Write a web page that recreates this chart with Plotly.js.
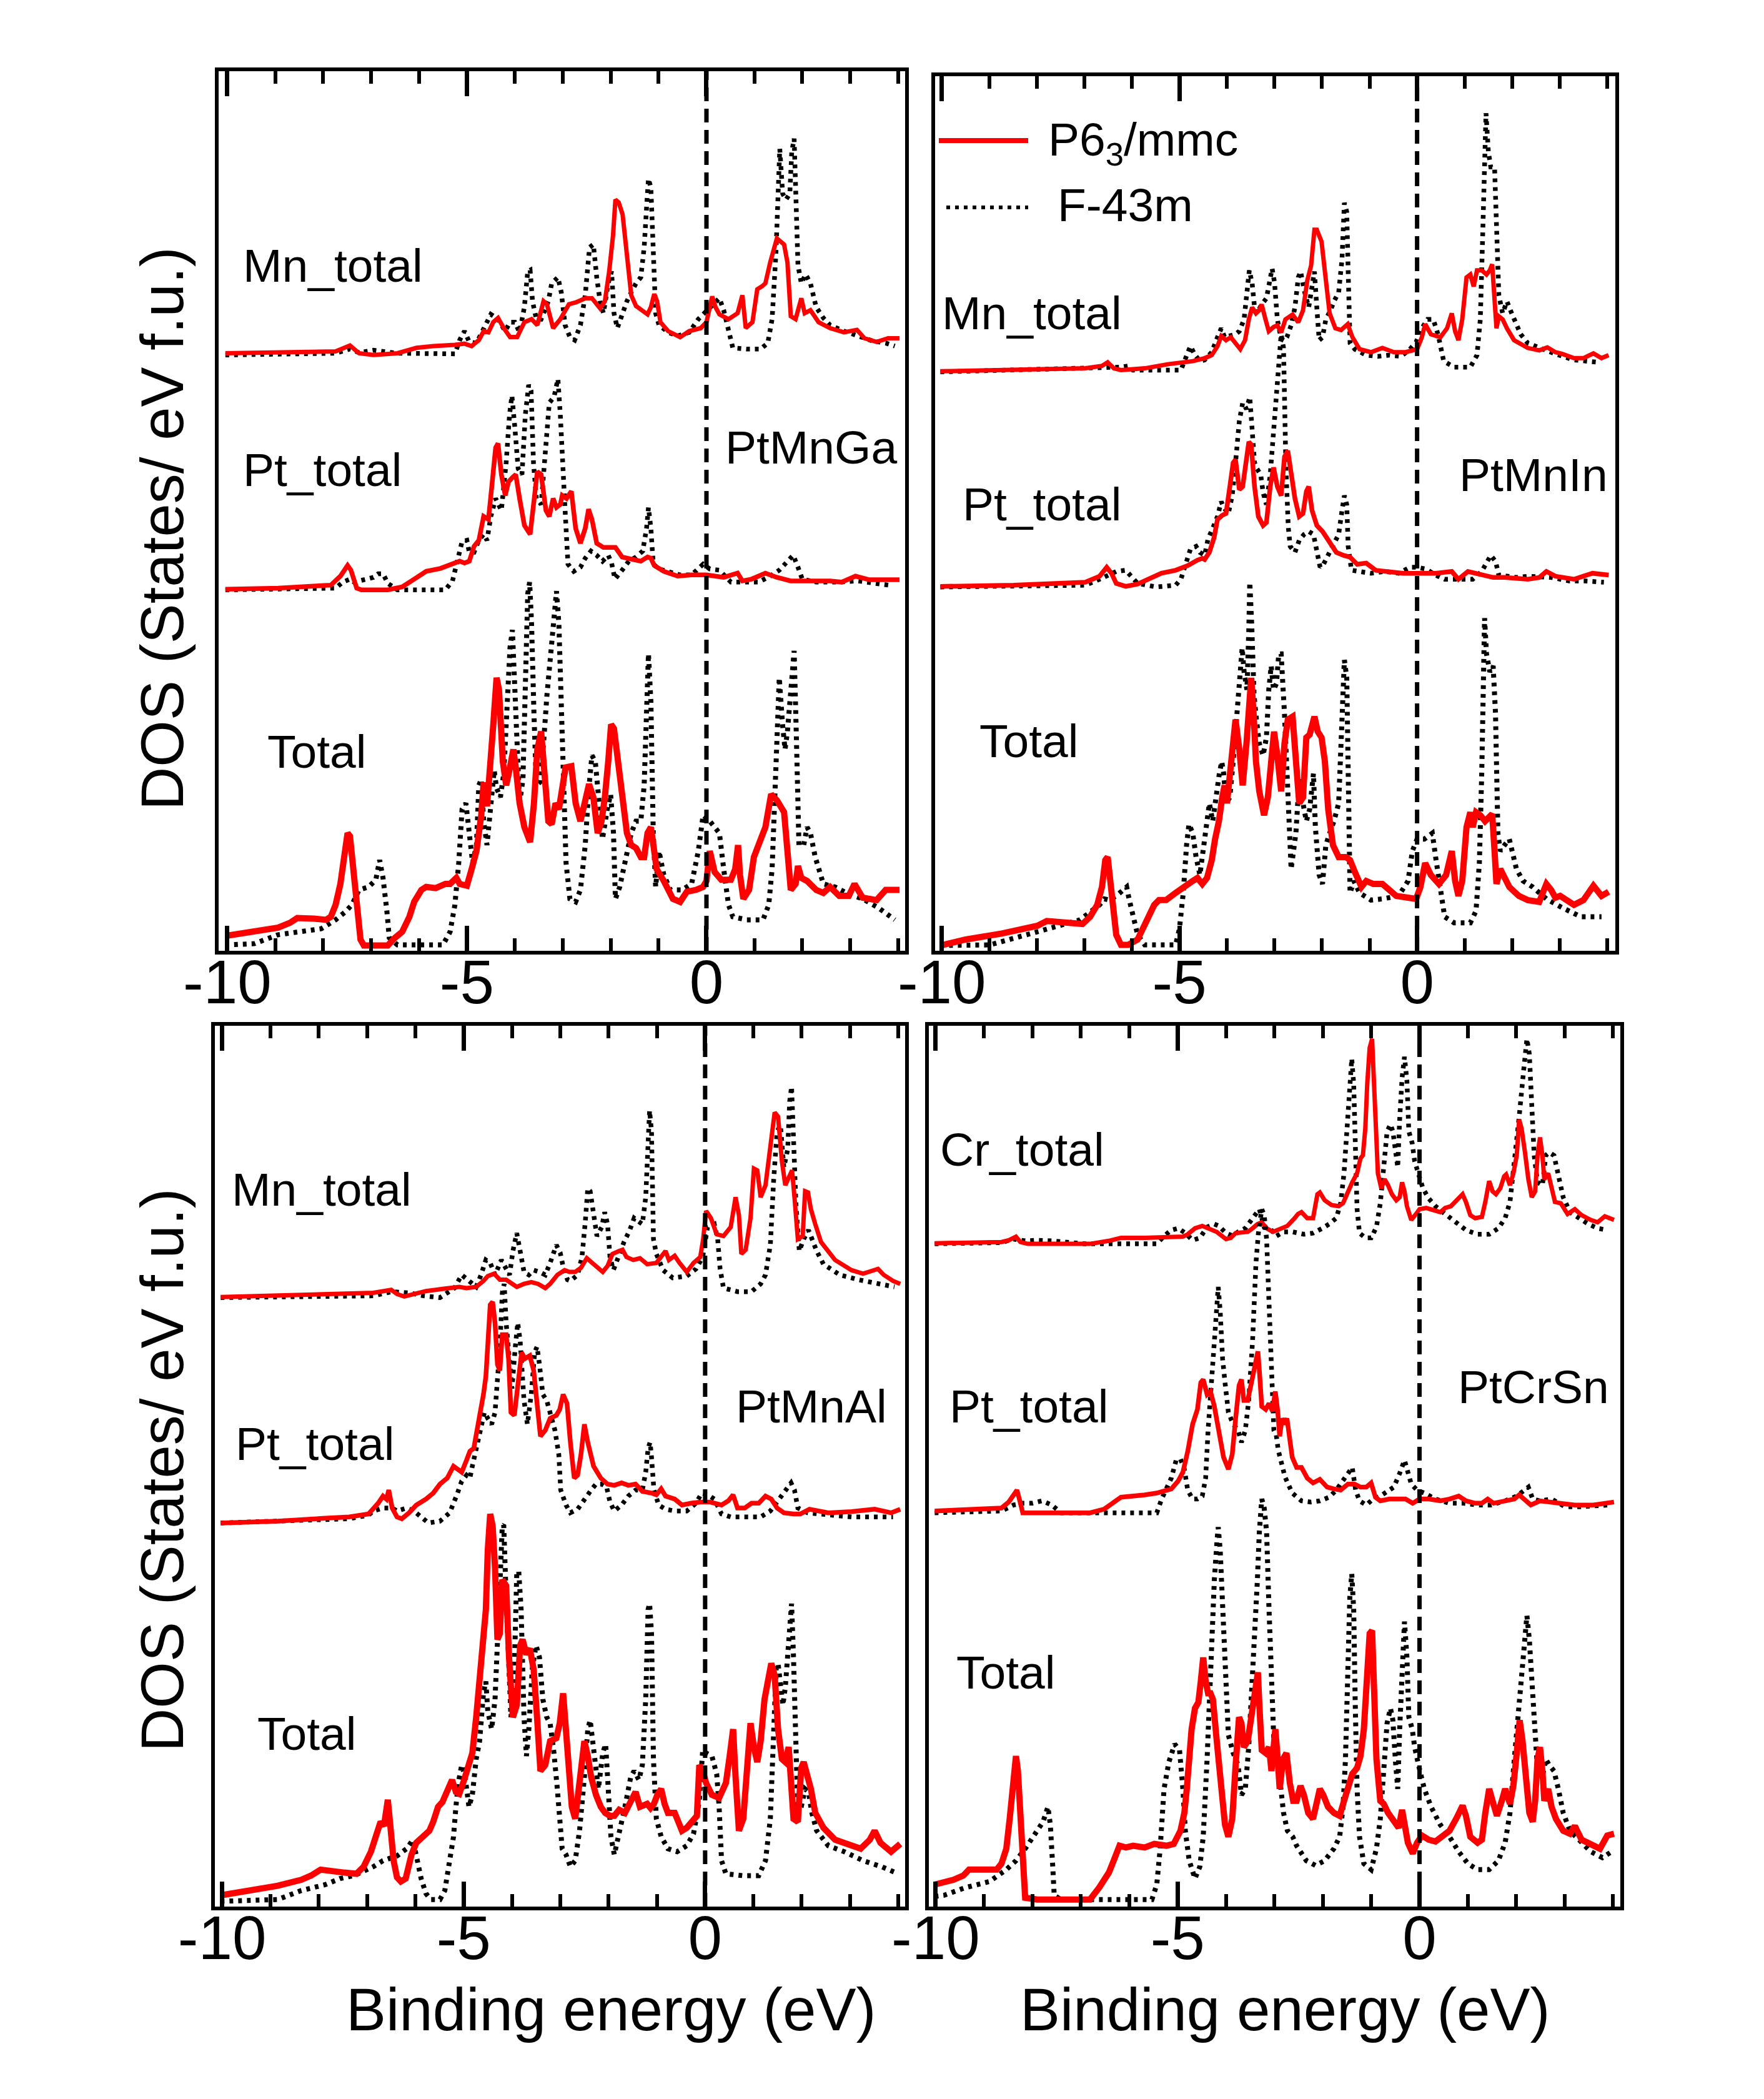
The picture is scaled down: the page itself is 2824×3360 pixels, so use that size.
<!DOCTYPE html>
<html><head><meta charset="utf-8">
<script src="https://cdn.plot.ly/plotly-3.0.1.min.js"></script>
<style>html,body{margin:0;padding:0;background:#fff}</style>
</head><body>
<div id="chart" style="width:2824px;height:3360px"></div>
<script>
// ---------------- DATA ----------------
const XTICK_VALS = [-10, -5, 0];
const XTICK_TEXT = ['-10', '-5', '0'];
const SERIES_NAMES = ['P6<sub>3</sub>/mmc', 'F-43m'];
const COMPOUNDS = ['PtMnGa', 'PtMnIn', 'PtMnAl', 'PtCrSn'];
const PARTS = [['Mn_total','Pt_total','Total'],['Mn_total','Pt_total','Total'],['Mn_total','Pt_total','Total'],['Cr_total','Pt_total','Total']];
const X_TITLE = 'Binding energy (eV)';
const Y_TITLE = 'DOS (States/ eV f.u.)';

// PtMnGa
const GA_M_HEX = [[-10.04,0.3],[-8.94,0.4],[-7.74,0.6],[-7.44,1.6],[-7.25,0.3],[-6.95,0],[-6.45,0.3],[-6.05,1.2],[-5.7,1.5],[-5.25,1.7],[-5.05,1.9],[-4.9,1.5],[-4.75,2.5],[-4.65,4.0],[-4.55,3.8],[-4.45,5.5],[-4.35,6.2],[-4.23,4.5],[-4.1,3.0],[-3.95,3.0],[-3.8,5.5],[-3.65,6.0],[-3.53,5.0],[-3.4,9.0],[-3.33,8.5],[-3.2,4.5],[-3.05,6.0],[-2.87,8.5],[-2.73,8.8],[-2.53,9.5],[-2.39,9.5],[-2.22,7.8],[-2.12,9.0],[-2.03,14],[-1.95,20],[-1.9,26],[-1.83,25.5],[-1.75,23.5],[-1.66,17],[-1.57,10],[-1.47,8.2],[-1.33,7.5],[-1.23,6.8],[-1.16,8.0],[-1.09,10.2],[-1.03,9.0],[-0.96,5.5],[-0.8,4.0],[-0.55,3.0],[-0.36,4.0],[-0.12,4.5],[0,5.5],[0.12,9.8],[0.19,8.0],[0.27,6.8],[0.46,6.0],[0.65,7.0],[0.75,10],[0.82,4.5],[0.96,5.5],[1.06,11],[1.16,11.5],[1.23,12],[1.33,15.5],[1.47,19.5],[1.62,18.5],[1.69,15.5],[1.76,6.5],[1.86,6.0],[1.98,9.5],[2.05,7.0],[2.17,7.5],[2.34,5.5],[2.58,4.5],[2.87,3.8],[3.14,4.2],[3.3,2.8],[3.55,2.2],[3.79,2.8],[4.03,2.8]];
const GA_M_CUB = [[-10.04,0],[-7.74,0.3],[-7.44,1.0],[-7.25,0.4],[-6.95,0.8],[-6.65,0.6],[-6.45,0.3],[-5.25,0.2],[-5.15,2.5],[-5.05,4.0],[-4.95,2.2],[-4.8,2.0],[-4.65,4.5],[-4.5,6.8],[-4.35,6.0],[-4.2,4.0],[-4.1,5.5],[-4.0,5.5],[-3.9,3.8],[-3.8,8.0],[-3.73,14],[-3.68,14.2],[-3.63,9.0],[-3.55,6.0],[-3.45,6.0],[-3.3,9.0],[-3.23,12],[-3.1,13],[-3.03,10.5],[-2.95,5.0],[-2.85,3.0],[-2.75,2.5],[-2.63,5.0],[-2.53,10],[-2.44,18],[-2.36,18.5],[-2.29,13],[-2.22,9.0],[-2.15,7.0],[-2.05,12],[-1.98,14],[-1.93,7.0],[-1.86,4.5],[-1.76,7.0],[-1.66,9.0],[-1.57,10.5],[-1.47,12],[-1.37,13],[-1.3,18],[-1.24,26],[-1.21,29.5],[-1.16,28],[-1.11,18],[-1.06,7.0],[-0.99,5.0],[-0.8,3.8],[-0.6,3.2],[-0.36,3.8],[-0.17,6.0],[-0.05,7.0],[0.07,8.0],[0.27,9.5],[0.36,7.5],[0.46,4.0],[0.55,1.2],[0.84,1.0],[1.13,1.0],[1.28,2.0],[1.37,6.0],[1.45,17],[1.5,30],[1.53,34.5],[1.59,27],[1.66,26],[1.74,27],[1.78,34],[1.83,36.2],[1.88,25],[1.91,15],[1.98,12],[2.07,13.5],[2.17,12],[2.29,8.0],[2.44,6.2],[2.58,5.0],[2.87,4.0],[3.16,3.2],[3.45,2.4],[3.74,2.0],[3.93,1.5]];
const GA_PT_HEX = [[-10.04,0.1],[-8.94,0.3],[-7.84,0.8],[-7.64,2.3],[-7.49,4.1],[-7.42,3.3],[-7.3,0.3],[-7.2,0],[-6.65,0],[-6.35,0.5],[-6.1,1.8],[-5.85,3.1],[-5.55,3.6],[-5.35,4.3],[-5.15,4.8],[-5.05,4.5],[-4.95,4.8],[-4.85,7.3],[-4.75,8.3],[-4.65,12.3],[-4.55,11.8],[-4.48,17.3],[-4.4,23.8],[-4.35,24.5],[-4.28,19.3],[-4.2,15.8],[-4.13,18.1],[-4.05,18.8],[-3.98,19.3],[-3.9,15.3],[-3.8,10.8],[-3.68,9.3],[-3.6,15.8],[-3.53,19.8],[-3.45,19.3],[-3.35,13.3],[-3.28,12.3],[-3.2,15.3],[-3.13,13.8],[-3.05,14.3],[-3.01,15.8],[-2.92,15.3],[-2.82,16.5],[-2.73,10.3],[-2.63,7.8],[-2.53,10.3],[-2.46,13.5],[-2.39,11.8],[-2.29,7.8],[-2.15,7.1],[-2.0,7.1],[-1.9,7.1],[-1.76,5.5],[-1.57,5.1],[-1.37,4.8],[-1.23,5.5],[-1.16,5.3],[-1.09,4.1],[-0.89,3.1],[-0.6,2.3],[-0.31,2.5],[0,2.5],[0.36,2.1],[0.65,2.8],[0.75,1.5],[0.94,1.8],[1.23,2.8],[1.47,2.1],[1.76,1.5],[2.1,1.5],[2.58,1.5],[2.82,1.3],[3.11,2.3],[3.4,1.7],[3.74,1.8],[4.03,1.7]];
const GA_PT_CUB = [[-10.04,0],[-7.74,0.3],[-7.59,1.3],[-7.44,1.8],[-7.35,1.3],[-7.15,1.8],[-6.95,2.1],[-6.85,2.7],[-6.75,2.7],[-6.65,1.1],[-6.45,0],[-5.45,0],[-5.3,1.5],[-5.2,4.8],[-5.1,8.1],[-5.0,8.3],[-4.95,6.3],[-4.85,6.3],[-4.75,8.3],[-4.65,9.3],[-4.58,8.3],[-4.5,12.3],[-4.4,15.3],[-4.28,13.3],[-4.18,21.3],[-4.11,29.3],[-4.06,32.5],[-4.0,27.3],[-3.93,20.3],[-3.85,19.3],[-3.78,29.3],[-3.71,34.3],[-3.66,33.3],[-3.61,21.3],[-3.55,15.3],[-3.45,14.3],[-3.35,24.3],[-3.28,31.3],[-3.18,32.3],[-3.1,35.3],[-3.05,29.3],[-3.0,19.3],[-2.95,13.3],[-2.89,4.3],[-2.77,3.1],[-2.63,3.8],[-2.53,5.3],[-2.41,6.5],[-2.29,5.8],[-2.17,4.8],[-2.05,5.8],[-1.98,4.5],[-1.91,1.8],[-1.76,3.3],[-1.62,4.8],[-1.47,5.5],[-1.33,6.5],[-1.25,10.3],[-1.21,13.8],[-1.16,10.3],[-1.11,4.3],[-0.99,3.5],[-0.8,3.1],[-0.55,2.5],[-0.31,2.5],[-0.07,4.3],[0.07,3.5],[0.27,3.3],[0.51,1.3],[0.84,1.3],[1.09,1.3],[1.33,2.3],[1.52,3.3],[1.66,4.5],[1.81,5.8],[1.91,3.8],[2.0,1.8],[2.29,1.3],[2.77,1.3],[3.16,1.5],[3.45,1.1],[3.88,0.7]];
const GA_TOT_HEX = [[-10.04,2.8],[-9.44,3.5],[-8.94,4.2],[-8.69,5.0],[-8.54,5.8],[-8.19,5.7],[-7.94,5.5],[-7.84,6.0],[-7.74,8.0],[-7.64,11.5],[-7.57,16],[-7.49,20],[-7.44,19.5],[-7.4,16],[-7.35,14],[-7.3,8.0],[-7.22,2.2],[-7.15,1.2],[-6.95,1.2],[-6.65,1.2],[-6.5,2.5],[-6.35,3.5],[-6.2,6.0],[-6.1,8.5],[-5.95,10.5],[-5.85,11],[-5.65,10.8],[-5.45,11.5],[-5.35,11.5],[-5.22,12.5],[-5.15,11.5],[-5.0,11.2],[-4.9,14],[-4.8,17],[-4.7,23],[-4.65,28.5],[-4.58,24.5],[-4.5,31.5],[-4.45,38],[-4.38,46],[-4.33,44],[-4.25,32],[-4.18,28],[-4.1,31],[-4.03,34],[-3.98,31],[-3.9,25],[-3.8,21],[-3.68,18.5],[-3.6,25],[-3.53,34],[-3.45,37],[-3.38,30],[-3.3,22],[-3.23,21.5],[-3.15,25],[-3.08,24],[-3.0,28.5],[-2.94,31],[-2.82,31.2],[-2.73,25],[-2.63,22],[-2.53,26],[-2.45,28.2],[-2.36,26],[-2.27,20],[-2.19,22],[-2.12,26],[-2.05,32],[-1.99,38.2],[-1.93,37.5],[-1.86,33],[-1.76,25],[-1.66,20],[-1.57,18],[-1.47,17.5],[-1.37,16],[-1.3,16],[-1.23,20],[-1.16,21],[-1.09,17],[-1.04,14],[-0.89,12],[-0.7,9.0],[-0.55,8.5],[-0.41,10.2],[-0.22,10.5],[-0.07,11],[0,12],[0.07,17],[0.17,13.5],[0.31,12.2],[0.51,12.2],[0.6,14],[0.66,18],[0.7,13],[0.77,9.0],[0.89,10.5],[0.99,16],[1.09,18],[1.23,21],[1.35,26.5],[1.47,25.5],[1.62,23.5],[1.69,16],[1.76,10.5],[1.86,11.5],[1.91,14.5],[1.98,12.5],[2.1,12],[2.29,10.5],[2.44,10],[2.58,11],[2.77,9.5],[2.97,9.5],[3.09,11.5],[3.26,9.2],[3.55,8.8],[3.74,10.5],[4.03,10.5]];
const GA_TOT_CUB = [[-10.04,1.3],[-9.44,1.5],[-8.94,3.0],[-8.44,3.5],[-8.04,4.0],[-7.74,5.5],[-7.54,6.8],[-7.4,8.0],[-7.25,10.5],[-7.05,11],[-6.9,12.2],[-6.82,15.5],[-6.75,12.5],[-6.67,7.0],[-6.62,2.5],[-6.45,1.3],[-5.95,1.3],[-5.5,1.3],[-5.35,3.5],[-5.25,8.0],[-5.17,15],[-5.1,24],[-5.02,25],[-4.95,20],[-4.88,15],[-4.8,18],[-4.75,28],[-4.7,29],[-4.65,22],[-4.58,18],[-4.5,25],[-4.43,30.5],[-4.38,27.5],[-4.3,26],[-4.23,30],[-4.15,42],[-4.1,51],[-4.05,54],[-4.0,45],[-3.95,32],[-3.9,25],[-3.83,29],[-3.78,45],[-3.73,60],[-3.69,62],[-3.65,55],[-3.6,40],[-3.55,28],[-3.48,28.5],[-3.4,35],[-3.33,43],[-3.25,51],[-3.18,56],[-3.13,60.5],[-3.08,55],[-3.03,40],[-2.98,25],[-2.93,15],[-2.85,9.0],[-2.73,8.5],[-2.63,10.5],[-2.53,18],[-2.46,27],[-2.39,33],[-2.32,32],[-2.24,24],[-2.17,19],[-2.07,24],[-2.0,26.5],[-1.94,20],[-1.9,9.0],[-1.81,11],[-1.69,16],[-1.57,20],[-1.47,22],[-1.37,22],[-1.3,28],[-1.24,42],[-1.21,50],[-1.16,42],[-1.11,20],[-1.06,11],[-0.99,17],[-0.89,13],[-0.75,10.5],[-0.51,10.5],[-0.31,11.5],[-0.17,17],[-0.07,23],[0.07,22],[0.27,20],[0.36,14],[0.46,8.0],[0.55,6.0],[0.84,5.5],[1.18,5.5],[1.3,8.0],[1.37,14],[1.42,25],[1.47,40],[1.52,46],[1.59,38],[1.64,34],[1.69,37],[1.74,42],[1.78,48],[1.83,50.5],[1.88,35],[1.93,18],[2.03,18],[2.1,21],[2.17,20],[2.27,16],[2.44,11.5],[2.68,11],[2.92,10],[3.26,9.0],[3.59,7.5],[3.93,5.5]];

// PtMnIn
const IN_M_HEX = [[-10.03,0.1],[-8.49,0.3],[-6.98,0.6],[-6.63,1.0],[-6.51,1.6],[-6.38,0.6],[-6.23,0.3],[-5.73,0.6],[-5.23,1.3],[-4.72,1.8],[-4.47,2.3],[-4.32,2.8],[-4.2,4.3],[-4.12,6.0],[-4.02,5.3],[-3.92,5.8],[-3.82,4.8],[-3.72,3.8],[-3.62,5.3],[-3.54,8.8],[-3.47,10.8],[-3.39,9.8],[-3.32,10.3],[-3.27,11.3],[-3.19,8.8],[-3.12,6.8],[-3.02,7.5],[-2.94,7.8],[-2.86,6.6],[-2.77,8.8],[-2.62,9.6],[-2.5,8.3],[-2.4,10.3],[-2.31,15.3],[-2.23,17.8],[-2.16,23.8],[-2.11,23.8],[-2.01,21.8],[-1.94,16.8],[-1.84,9.8],[-1.72,7.3],[-1.6,7.0],[-1.46,8.0],[-1.36,5.8],[-1.21,3.8],[-0.97,3.3],[-0.73,4.0],[-0.49,3.3],[-0.24,3.3],[0,3.8],[0.1,5.8],[0.17,8.0],[0.29,6.3],[0.49,5.8],[0.63,7.3],[0.73,9.8],[0.8,6.8],[0.87,5.3],[0.95,8.8],[1.04,15.8],[1.12,16.3],[1.19,14.3],[1.26,17.0],[1.36,17.0],[1.46,16.3],[1.53,17.0],[1.58,18.0],[1.63,12.8],[1.67,7.3],[1.72,9.3],[1.8,8.8],[1.89,7.3],[2.04,5.3],[2.33,4.0],[2.57,3.6],[2.74,4.1],[2.91,3.3],[3.06,3.0],[3.3,2.3],[3.5,2.3],[3.71,3.1],[3.88,2.3],[4.03,2.8]];
const IN_M_CUB = [[-10.03,0],[-6.51,0.6],[-6.23,0.8],[-6.08,1.0],[-5.98,0.3],[-4.97,0.3],[-4.87,2.3],[-4.77,4.3],[-4.67,2.8],[-4.57,1.8],[-4.47,2.0],[-4.32,3.3],[-4.2,5.8],[-4.12,7.3],[-4.05,5.8],[-3.97,6.0],[-3.82,6.3],[-3.74,6.8],[-3.64,8.8],[-3.58,13.3],[-3.53,17.0],[-3.47,14.8],[-3.42,10.8],[-3.37,9.8],[-3.27,11.3],[-3.17,12.3],[-3.09,15.3],[-3.05,17.3],[-3.0,15],[-2.94,8.8],[-2.86,5.5],[-2.79,5.2],[-2.74,5.8],[-2.65,7.8],[-2.57,10.8],[-2.5,15.8],[-2.45,16.8],[-2.38,13.8],[-2.28,10.8],[-2.21,14.8],[-2.16,16.8],[-2.11,10.8],[-2.06,5.3],[-1.99,5.8],[-1.92,8.8],[-1.82,10.3],[-1.75,11.8],[-1.65,13.3],[-1.58,18.8],[-1.53,28.3],[-1.48,26.8],[-1.45,16.8],[-1.41,4.8],[-1.31,3.8],[-1.07,2.8],[-0.83,2.6],[-0.58,2.8],[-0.34,2.6],[-0.15,3.8],[-0.02,5.0],[0.1,7.3],[0.22,8.8],[0.34,8.8],[0.44,6.3],[0.56,1.8],[0.78,0.8],[1.12,0.8],[1.26,2.8],[1.33,8.8],[1.38,22.8],[1.42,37.8],[1.45,43.3],[1.5,36.8],[1.55,34.3],[1.63,34.3],[1.67,24.8],[1.72,12.8],[1.8,9.8],[1.89,11.8],[1.99,9.8],[2.18,6.3],[2.33,4.8],[2.57,4.0],[2.91,3.0],[3.3,2.0],[3.64,1.8],[3.83,1.6]];
const IN_PT_HEX = [[-10.03,0.1],[-8.49,0.3],[-6.98,0.8],[-6.68,1.8],[-6.53,3.3],[-6.43,2.3],[-6.33,0.6],[-6.13,0.1],[-5.88,0.5],[-5.63,1.3],[-5.38,2.3],[-5.08,2.8],[-4.82,3.6],[-4.62,4.5],[-4.52,4.8],[-4.47,4.6],[-4.37,5.8],[-4.27,8.3],[-4.2,11.3],[-4.1,12.0],[-4.02,12.3],[-3.94,16.8],[-3.87,20.8],[-3.82,21.3],[-3.74,16.3],[-3.67,16.8],[-3.59,20.8],[-3.54,24.3],[-3.49,23.8],[-3.42,16.8],[-3.34,11.8],[-3.24,10.3],[-3.17,10.8],[-3.09,16.8],[-3.02,20],[-2.94,16.8],[-2.86,15.3],[-2.79,21.8],[-2.72,22.8],[-2.65,18.8],[-2.57,14.8],[-2.48,11.8],[-2.4,12.3],[-2.33,16.0],[-2.28,16.8],[-2.21,12.8],[-2.11,10.3],[-1.99,9.3],[-1.84,7.3],[-1.7,5.8],[-1.55,5.3],[-1.41,5.0],[-1.26,3.8],[-1.07,4.0],[-0.87,2.8],[-0.58,2.6],[-0.29,2.3],[0,2.3],[0.39,2.3],[0.73,2.6],[0.87,1.3],[1.07,2.6],[1.26,2.3],[1.6,1.6],[1.84,1.6],[2.33,1.3],[2.57,1.6],[2.72,2.6],[2.91,1.8],[3.3,1.3],[3.69,2.3],[4.03,2.0]];
const IN_PT_CUB = [[-10.03,0],[-6.98,0.3],[-6.68,1.3],[-6.48,2.0],[-6.33,2.6],[-6.13,2.8],[-6.03,1.8],[-5.88,0.6],[-5.48,0],[-5.08,0.3],[-4.97,1.3],[-4.87,3.8],[-4.77,6.3],[-4.65,6.8],[-4.57,5.8],[-4.47,5.3],[-4.4,8.0],[-4.3,9.8],[-4.2,11.8],[-4.12,14.3],[-4.07,13.3],[-3.97,12.3],[-3.89,15.3],[-3.82,20.8],[-3.74,27.8],[-3.67,30.8],[-3.59,29.8],[-3.52,31.8],[-3.47,26.8],[-3.42,20.8],[-3.37,19.8],[-3.29,18.8],[-3.24,15.8],[-3.17,13.8],[-3.09,18.8],[-3.02,26.8],[-2.96,32.8],[-2.91,38.8],[-2.86,42.3],[-2.81,40],[-2.76,20],[-2.71,10],[-2.67,6.8],[-2.57,5.8],[-2.48,7.8],[-2.38,8.8],[-2.28,9.3],[-2.18,8.8],[-2.11,6.3],[-2.04,3.3],[-1.97,3.8],[-1.84,5.8],[-1.75,7.3],[-1.65,8.8],[-1.58,12.8],[-1.53,15.3],[-1.48,13.8],[-1.45,6.8],[-1.38,2.8],[-1.21,2.6],[-0.97,2.3],[-0.68,2.6],[-0.39,2.3],[-0.15,3.3],[0,3.3],[0.19,3.0],[0.39,2.0],[0.58,1.3],[0.87,1.3],[1.17,1.3],[1.36,2.6],[1.55,5.3],[1.65,4.3],[1.72,2.0],[2.09,1.6],[2.33,1.8],[2.82,1.6],[3.2,1.0],[3.54,1.0],[3.93,0.8]];
const IN_TOT_HEX = [[-10.03,1.2],[-9.5,2.2],[-8.74,3.2],[-7.99,4.5],[-7.79,5.3],[-7.49,5.2],[-7.04,4.8],[-6.88,6.0],[-6.73,8.0],[-6.63,11],[-6.56,15.5],[-6.51,16],[-6.46,12],[-6.41,9.0],[-6.33,3.0],[-6.23,1.3],[-6.08,1.3],[-5.88,2.2],[-5.68,5.5],[-5.53,8.0],[-5.43,8.8],[-5.28,8.8],[-5.08,10],[-4.92,11],[-4.72,12],[-4.62,12.5],[-4.52,11.5],[-4.42,12.5],[-4.32,15.5],[-4.25,19],[-4.17,22],[-4.1,26],[-4.05,28],[-4.0,25],[-3.94,30],[-3.87,37],[-3.82,39],[-3.74,34],[-3.67,28],[-3.59,35],[-3.54,42],[-3.49,46],[-3.44,40],[-3.39,32],[-3.32,27],[-3.22,23],[-3.14,26],[-3.07,33],[-3.01,37],[-2.94,33],[-2.86,27],[-2.79,35],[-2.72,39],[-2.62,39.5],[-2.55,31],[-2.48,25],[-2.4,26],[-2.33,36],[-2.26,36.5],[-2.16,39.5],[-2.09,37],[-2.01,36],[-1.94,32],[-1.87,24],[-1.77,18],[-1.65,16],[-1.5,16],[-1.41,15.5],[-1.31,13.5],[-1.17,11],[-1.07,12],[-0.92,11.5],[-0.73,11.5],[-0.58,10.5],[-0.44,9.5],[-0.19,9.2],[-0.02,9.0],[0.07,11],[0.17,15],[0.29,13],[0.46,11.5],[0.61,13],[0.73,17],[0.8,12],[0.87,9.5],[0.95,12],[1.04,21],[1.12,23.5],[1.17,21],[1.24,23.5],[1.33,23],[1.43,22],[1.5,22.5],[1.58,23.2],[1.63,17],[1.67,11.5],[1.75,14],[1.82,13],[1.94,11],[2.14,9.5],[2.33,8.8],[2.57,8.5],[2.72,11.5],[2.82,10.5],[2.91,9.2],[3.01,9.5],[3.16,8.8],[3.3,8.0],[3.5,8.8],[3.71,11.2],[3.88,9.5],[4.03,10.2]];
const IN_TOT_CUB = [[-10.03,1.2],[-8.99,1.3],[-7.99,3.5],[-7.49,4.5],[-7.09,5.5],[-6.88,6.8],[-6.68,8.0],[-6.58,9.0],[-6.48,8.8],[-6.33,9.5],[-6.18,10.5],[-6.11,11],[-6.06,9.0],[-5.98,6.0],[-5.88,3.0],[-5.73,1.3],[-5.08,1.3],[-5.0,4.0],[-4.92,10],[-4.85,18],[-4.8,21.5],[-4.72,20],[-4.65,16],[-4.57,13],[-4.5,17],[-4.42,23],[-4.37,25],[-4.3,22],[-4.22,27],[-4.16,30],[-4.11,32],[-4.07,30],[-4.02,25],[-3.94,26],[-3.87,32],[-3.79,40],[-3.73,45],[-3.68,51],[-3.64,47],[-3.58,44],[-3.54,54],[-3.52,62],[-3.48,55],[-3.43,43],[-3.38,39],[-3.32,35],[-3.24,33],[-3.17,36],[-3.12,44],[-3.07,48],[-3.02,44],[-2.96,45],[-2.91,50],[-2.86,50],[-2.79,40],[-2.72,25],[-2.65,14],[-2.55,20],[-2.48,29],[-2.4,25],[-2.33,22],[-2.26,24],[-2.18,30],[-2.14,21],[-2.06,13],[-1.99,11.5],[-1.92,18],[-1.84,20],[-1.75,22],[-1.65,25],[-1.58,37],[-1.53,49],[-1.48,46],[-1.45,25],[-1.41,10],[-1.33,12],[-1.21,10],[-0.97,8.8],[-0.73,9.0],[-0.39,9.5],[-0.19,12],[-0.1,17],[0,19],[0.15,19],[0.32,20],[0.39,16],[0.49,11],[0.58,6.0],[0.78,5.0],[1.12,5.0],[1.24,7.0],[1.31,15],[1.36,30],[1.4,45],[1.42,56],[1.46,50],[1.53,47],[1.6,48],[1.65,40],[1.7,20],[1.75,17],[1.84,18],[1.94,19],[2.09,14],[2.23,12],[2.43,11],[2.72,9.0],[3.06,7.5],[3.45,6.0],[3.88,6.0]];

// PtMnAl
const AL_M_HEX = [[-10.03,0.1],[-8.85,0.3],[-7.37,0.6],[-6.87,0.8],[-6.5,1.3],[-6.38,0.6],[-6.23,0.2],[-6.03,0.6],[-5.78,1.1],[-5.39,1.5],[-5.09,1.8],[-4.94,1.6],[-4.74,1.8],[-4.59,2.8],[-4.5,3.6],[-4.37,4.0],[-4.25,3.0],[-4.12,3.0],[-4.0,2.3],[-3.9,1.8],[-3.75,2.3],[-3.6,2.6],[-3.46,2.3],[-3.31,1.6],[-3.21,2.3],[-3.06,3.8],[-2.91,4.6],[-2.81,4.3],[-2.69,4.3],[-2.57,5.0],[-2.45,6.6],[-2.31,5.6],[-2.12,4.3],[-2.02,5.3],[-1.92,7.3],[-1.78,7.8],[-1.71,8.0],[-1.63,6.8],[-1.49,6.3],[-1.35,6.6],[-1.2,5.6],[-1.01,5.8],[-0.91,6.8],[-0.82,7.8],[-0.75,6.3],[-0.63,7.0],[-0.53,5.8],[-0.38,4.3],[-0.24,5.8],[-0.1,6.8],[-0.04,9.8],[0.02,14.5],[0.12,13.3],[0.24,10.6],[0.38,10.3],[0.53,11.8],[0.63,16.8],[0.7,13.8],[0.75,7.3],[0.84,8.0],[0.94,13.3],[1.01,21.6],[1.08,21.3],[1.15,16.8],[1.25,18.8],[1.37,26.3],[1.44,31],[1.51,30.3],[1.59,22.8],[1.66,18.8],[1.75,20.3],[1.8,21.3],[1.85,16.8],[1.92,9.8],[2.02,10.3],[2.07,17.8],[2.13,17.6],[2.19,14.8],[2.28,12.3],[2.4,9.3],[2.69,6.3],[3.03,4.6],[3.27,4.0],[3.58,4.8],[3.7,3.8],[3.89,2.8],[4.04,2.3]];
const AL_M_CUB = [[-10.03,0],[-6.87,0.3],[-6.48,1.0],[-6.13,0.8],[-5.83,0.3],[-5.49,0],[-5.19,1.6],[-5.04,3.8],[-4.89,2.8],[-4.74,1.8],[-4.64,3.8],[-4.54,6.3],[-4.45,5.8],[-4.35,3.8],[-4.22,6.3],[-4.12,4.8],[-4.05,3.8],[-3.98,7.8],[-3.9,10.8],[-3.83,7.8],[-3.75,4.3],[-3.65,3.8],[-3.55,4.6],[-3.43,4.3],[-3.31,3.8],[-3.21,5.8],[-3.08,8.8],[-3.0,7.5],[-2.93,4.8],[-2.85,3.0],[-2.79,2.8],[-2.64,3.8],[-2.55,6.8],[-2.48,12.8],[-2.43,18.3],[-2.38,17.8],[-2.31,13.8],[-2.24,10.3],[-2.14,11.8],[-2.08,14.3],[-2.02,12.3],[-1.97,6.8],[-1.9,4.6],[-1.8,6.8],[-1.68,9.3],[-1.56,11.3],[-1.47,13.3],[-1.39,12.8],[-1.3,12.3],[-1.23,16.8],[-1.18,28.3],[-1.15,31.3],[-1.11,27.8],[-1.07,9.8],[-1.01,7.3],[-0.87,4.6],[-0.67,3.3],[-0.38,3.6],[-0.19,4.8],[-0.05,6.8],[0.05,11.8],[0.19,12.3],[0.26,9.8],[0.31,4.8],[0.38,1.6],[0.67,1.0],[0.96,1.0],[1.15,2.3],[1.25,3.8],[1.35,8.8],[1.42,19.8],[1.49,27.8],[1.56,28.8],[1.63,21.8],[1.71,24.8],[1.75,32.8],[1.79,35.3],[1.83,27.8],[1.88,15.8],[1.95,7.8],[2.04,9.8],[2.14,11.3],[2.21,9.8],[2.31,7.8],[2.45,5.6],[2.79,3.8],[3.17,3.0],[3.56,2.3],[3.92,1.8]];
const AL_PT_HEX = [[-10.03,0],[-8.85,0.3],[-7.86,0.8],[-7.37,1.0],[-6.97,1.5],[-6.77,3.3],[-6.67,4.5],[-6.6,4.0],[-6.55,5.5],[-6.48,2.5],[-6.38,1.0],[-6.28,0.7],[-6.13,1.7],[-5.98,3.0],[-5.78,4.0],[-5.63,5.0],[-5.49,6.5],[-5.34,7.5],[-5.21,9.5],[-5.14,9.0],[-5.04,8.5],[-4.94,10.5],[-4.87,12],[-4.79,12.5],[-4.72,15.5],[-4.64,18.5],[-4.59,21.5],[-4.54,24.5],[-4.5,31],[-4.45,36.5],[-4.4,37],[-4.35,33.5],[-4.3,26.5],[-4.25,25.5],[-4.2,31.5],[-4.12,31.5],[-4.07,27.5],[-4.02,18.5],[-3.95,18],[-3.88,22.5],[-3.8,28.5],[-3.73,27.5],[-3.63,28],[-3.55,25.5],[-3.48,19.5],[-3.41,14.5],[-3.31,15.5],[-3.21,17.5],[-3.08,18],[-3.01,19],[-2.94,21.5],[-2.86,20],[-2.79,13.5],[-2.71,7.5],[-2.64,8.0],[-2.57,11.5],[-2.5,16.5],[-2.43,13.5],[-2.31,9.5],[-2.16,7.5],[-2.02,6.5],[-1.88,6.3],[-1.73,6.7],[-1.59,6.3],[-1.44,6.5],[-1.3,5.3],[-1.11,5.0],[-1.01,4.7],[-0.91,5.7],[-0.82,4.5],[-0.63,4.0],[-0.48,3.0],[-0.29,3.3],[-0.1,3.5],[0.1,3.5],[0.34,3.0],[0.48,3.7],[0.58,4.7],[0.67,2.5],[0.82,2.5],[0.96,3.3],[1.11,3.3],[1.25,4.5],[1.37,4.0],[1.49,2.5],[1.63,1.7],[1.83,1.5],[1.97,1.5],[2.16,2.3],[2.55,1.7],[3.03,1.9],[3.51,2.3],[3.85,1.7],[4.04,2.3]];
const AL_PT_CUB = [[-10.03,0],[-7.37,0.7],[-6.97,1.3],[-6.87,2.0],[-6.67,2.5],[-6.48,2.5],[-6.38,2.0],[-6.18,2.5],[-6.03,2.0],[-5.88,1.0],[-5.73,0],[-5.49,0.3],[-5.29,1.7],[-5.14,4.7],[-5.04,7.0],[-4.94,8.0],[-4.87,7.5],[-4.82,9.5],[-4.74,12.5],[-4.64,16.5],[-4.57,18.5],[-4.5,17.5],[-4.42,16.5],[-4.35,18.5],[-4.3,23.5],[-4.25,29.5],[-4.2,38.5],[-4.16,40],[-4.12,33.5],[-4.07,28.5],[-4.0,22.5],[-3.93,29.5],[-3.88,33.5],[-3.83,30.5],[-3.75,20.5],[-3.68,16.5],[-3.6,21.5],[-3.53,28.5],[-3.48,29.5],[-3.43,26.5],[-3.36,21.5],[-3.28,20.5],[-3.18,17.5],[-3.11,15.5],[-3.03,11.5],[-2.99,5.5],[-2.88,3.0],[-2.79,1.7],[-2.64,2.3],[-2.5,4.0],[-2.36,5.5],[-2.26,6.5],[-2.14,6.5],[-2.04,6.0],[-1.97,3.5],[-1.88,2.0],[-1.73,3.0],[-1.59,4.5],[-1.44,5.5],[-1.3,5.5],[-1.23,8.5],[-1.18,12.5],[-1.14,13.5],[-1.11,11],[-1.06,5.5],[-0.96,3.0],[-0.82,2.3],[-0.63,2.0],[-0.38,2.0],[-0.19,3.3],[-0.07,5.0],[0.05,4.7],[0.19,4.0],[0.34,1.5],[0.53,1.0],[0.87,1.0],[1.15,1.0],[1.35,2.0],[1.54,4.0],[1.68,5.5],[1.78,6.7],[1.85,5.5],[1.92,2.5],[2.12,1.7],[2.55,1.3],[3.03,1.0],[3.51,1.0],[3.89,1.0]];
const AL_TOT_HEX = [[-10.03,2.2],[-9.35,3.0],[-8.85,3.8],[-8.36,4.8],[-8.16,5.5],[-7.96,6.5],[-7.76,6.2],[-7.47,6.0],[-7.22,5.8],[-7.07,7.0],[-6.92,9.5],[-6.82,12],[-6.72,14.5],[-6.65,13.8],[-6.57,18.2],[-6.52,14],[-6.45,8.0],[-6.38,5.2],[-6.3,4.5],[-6.2,5.0],[-6.08,9.0],[-5.98,11],[-5.86,12],[-5.71,13],[-5.63,14.5],[-5.53,17],[-5.44,17.8],[-5.34,19.5],[-5.24,21.5],[-5.16,19.5],[-5.09,19.2],[-4.99,21.5],[-4.89,24.5],[-4.82,26],[-4.74,32],[-4.67,38],[-4.59,44],[-4.54,50],[-4.5,60],[-4.45,66],[-4.4,64],[-4.35,57],[-4.3,45],[-4.25,46],[-4.2,55],[-4.12,54],[-4.06,42],[-3.98,32],[-3.9,34],[-3.83,44],[-3.78,45],[-3.7,42.5],[-3.63,43.5],[-3.55,40],[-3.48,32],[-3.41,23],[-3.31,24],[-3.21,28],[-3.08,28.5],[-3.01,31],[-2.94,36],[-2.86,28],[-2.76,17],[-2.69,15],[-2.62,20],[-2.55,26],[-2.5,28],[-2.43,25.5],[-2.36,22],[-2.26,19],[-2.16,17],[-2.07,16],[-1.97,15.5],[-1.88,15.5],[-1.78,16.5],[-1.66,16],[-1.54,18],[-1.44,19.5],[-1.35,17],[-1.2,17.5],[-1.13,16.8],[-1.06,17.5],[-0.99,19],[-0.91,20],[-0.84,17.5],[-0.77,16],[-0.63,16],[-0.48,13],[-0.38,13.5],[-0.24,15],[-0.17,15.5],[-0.12,24],[-0.05,23],[0.02,21],[0.14,19],[0.29,18.5],[0.43,21],[0.5,25],[0.58,30],[0.63,22],[0.7,13],[0.79,15],[0.87,23],[0.94,31],[1.01,27],[1.08,24.5],[1.15,28],[1.23,35],[1.3,38],[1.37,41],[1.44,39],[1.51,30],[1.59,25],[1.66,24.5],[1.73,27],[1.78,20],[1.83,15],[1.92,14.5],[1.99,23.5],[2.04,24.5],[2.12,22],[2.19,20],[2.28,16],[2.45,13.5],[2.69,11.5],[3.03,10.5],[3.22,10],[3.41,11.5],[3.51,13],[3.63,11],[3.85,9.5],[4.04,10.8]];
const AL_TOT_CUB = [[-10.03,1.2],[-8.85,1.5],[-8.36,3.0],[-7.86,4.0],[-7.56,5.0],[-7.27,5.5],[-6.87,7.0],[-6.67,8.0],[-6.38,8.8],[-6.18,10],[-6.05,11.5],[-5.98,9.0],[-5.88,5.0],[-5.78,2.5],[-5.68,1.5],[-5.49,1.5],[-5.39,3.0],[-5.29,8.0],[-5.21,12],[-5.16,17],[-5.11,21],[-5.04,24],[-4.97,22],[-4.89,17],[-4.82,19],[-4.74,25],[-4.67,28],[-4.59,36],[-4.54,38],[-4.5,33],[-4.42,30],[-4.35,35],[-4.3,43],[-4.25,54],[-4.2,64],[-4.17,64.2],[-4.12,52],[-4.07,40],[-4.02,32],[-3.95,40],[-3.9,56],[-3.86,56.5],[-3.81,50],[-3.75,32],[-3.7,25.5],[-3.65,30],[-3.58,40],[-3.5,44],[-3.43,42],[-3.36,35],[-3.28,32],[-3.21,31],[-3.13,26],[-3.06,20],[-3.01,14],[-2.96,10],[-2.88,9.0],[-2.79,7.0],[-2.69,8.0],[-2.6,13],[-2.5,22],[-2.43,30],[-2.38,31.5],[-2.31,26],[-2.21,20],[-2.12,26],[-2.06,27.5],[-2.02,22],[-1.95,12],[-1.88,9.0],[-1.78,12.5],[-1.66,17],[-1.54,22],[-1.47,23],[-1.37,21.5],[-1.3,24],[-1.23,35],[-1.18,50],[-1.15,51],[-1.11,46],[-1.07,25],[-1.01,15],[-0.91,12],[-0.77,10],[-0.58,9.5],[-0.38,10.5],[-0.24,12.5],[-0.12,18],[-0.05,26.5],[0.02,26],[0.14,25.5],[0.24,22.5],[0.29,17],[0.34,8.0],[0.43,5.8],[0.77,5.5],[1.11,5.5],[1.25,8.0],[1.35,15],[1.42,30],[1.47,40],[1.51,41],[1.56,37],[1.61,34],[1.66,37],[1.71,42],[1.75,48],[1.79,51],[1.83,42],[1.88,25],[1.92,16],[1.99,17],[2.07,20],[2.14,19.5],[2.21,16],[2.31,13],[2.55,10.5],[2.88,9.5],[3.27,8.0],[3.65,7.0],[3.94,6.0]];

// PtCrSn
const SN_CR_HEX = [[-10.02,0.1],[-8.64,0.3],[-8.49,0.6],[-8.34,1.2],[-8.25,0.3],[-8.1,0],[-7.65,0],[-6.81,0],[-6.42,0.5],[-6.17,1.0],[-5.68,1.0],[-5.18,1.1],[-4.89,1.2],[-4.79,1.6],[-4.64,2.6],[-4.49,3.0],[-4.39,2.6],[-4.19,2.0],[-4.0,0.8],[-3.9,1.0],[-3.8,1.8],[-3.65,2.0],[-3.55,2.0],[-3.45,2.6],[-3.35,3.3],[-3.26,3.6],[-3.16,2.6],[-3.03,2.0],[-2.87,2.6],[-2.73,3.0],[-2.58,4.3],[-2.51,5.0],[-2.44,5.3],[-2.32,4.3],[-2.2,4.3],[-2.11,8.3],[-2.06,8.6],[-1.96,7.3],[-1.82,6.5],[-1.67,6.3],[-1.58,6.8],[-1.48,8.8],[-1.39,10.3],[-1.29,11.8],[-1.22,14.3],[-1.17,14.8],[-1.12,19.3],[-1.08,26.8],[-1.03,32.8],[-0.98,34.3],[-0.95,28.8],[-0.91,18.8],[-0.86,11.8],[-0.79,9.3],[-0.72,10.8],[-0.65,9.8],[-0.57,8.3],[-0.48,7.3],[-0.41,7.8],[-0.36,10.3],[-0.31,8.8],[-0.26,6.3],[-0.17,4.0],[-0.07,5.0],[0,5.8],[0.14,6.0],[0.29,5.6],[0.43,5.3],[0.53,6.0],[0.65,6.3],[0.77,7.3],[0.89,8.3],[0.96,7.0],[1.05,4.8],[1.15,4.3],[1.29,4.5],[1.36,7.0],[1.44,10.5],[1.51,8.8],[1.58,8.3],[1.67,9.3],[1.75,11.3],[1.79,11.6],[1.87,9.8],[1.94,11.8],[2.01,14.8],[2.06,20.8],[2.11,19.3],[2.18,15.3],[2.25,10.8],[2.32,7.8],[2.39,8.8],[2.44,14.8],[2.49,17.8],[2.54,14.8],[2.58,10.8],[2.66,11.8],[2.73,9.3],[2.8,7.0],[2.92,6.8],[3.06,5.0],[3.21,5.8],[3.35,4.8],[3.54,4.0],[3.68,3.6],[3.83,4.6],[4.02,4.0]];
const SN_CR_CUB = [[-10.02,0],[-8.64,0.2],[-8.39,0.8],[-8.15,0.5],[-7.9,0.6],[-7.6,0.5],[-6.91,0],[-5.43,0],[-5.28,1.3],[-5.13,2.3],[-4.99,2.6],[-4.84,1.8],[-4.69,0.6],[-4.54,1.0],[-4.39,2.8],[-4.24,3.3],[-4.15,3.0],[-4.0,1.8],[-3.85,1.3],[-3.75,2.0],[-3.6,2.6],[-3.48,3.8],[-3.38,4.8],[-3.31,5.8],[-3.26,4.3],[-3.21,2.8],[-3.11,2.8],[-3.06,2.3],[-2.96,1.3],[-2.81,2.0],[-2.62,2.0],[-2.39,1.6],[-2.2,1.8],[-2.01,2.6],[-1.87,3.3],[-1.72,4.3],[-1.63,6.8],[-1.56,11.8],[-1.49,20.8],[-1.44,28.8],[-1.4,31],[-1.36,26.8],[-1.33,15.8],[-1.29,5.8],[-1.24,1.8],[-1.12,1.0],[-1.0,1.0],[-0.89,2.8],[-0.81,6.8],[-0.74,13.8],[-0.67,18.8],[-0.6,20],[-0.55,18.8],[-0.5,15.8],[-0.45,12.8],[-0.41,20.8],[-0.36,27.8],[-0.31,31.3],[-0.26,27.3],[-0.22,18.8],[-0.15,16.8],[-0.1,13.8],[-0.02,11.8],[0.07,9.3],[0.19,7.6],[0.33,6.3],[0.53,5.0],[0.72,3.8],[0.96,2.3],[1.2,1.6],[1.44,1.6],[1.63,2.6],[1.77,4.3],[1.87,7.0],[1.96,13.3],[2.06,21.3],[2.15,28.8],[2.22,34.3],[2.27,31.8],[2.32,24.8],[2.37,14.8],[2.44,10.3],[2.54,9.8],[2.61,14.8],[2.68,15.3],[2.78,14.8],[2.87,11.8],[2.97,7.8],[3.11,5.3],[3.3,4.3],[3.49,3.3],[3.68,2.6],[3.88,2.3]];
const SN_PT_HEX = [[-10.02,0.3],[-8.64,0.8],[-8.49,1.8],[-8.32,3.8],[-8.27,2.3],[-8.2,0],[-7.9,0],[-6.81,0],[-6.52,0.6],[-6.32,1.8],[-6.17,2.6],[-5.68,3.0],[-5.43,3.3],[-5.13,4.0],[-4.99,5.3],[-4.89,6.8],[-4.79,10.3],[-4.69,14.8],[-4.59,17.3],[-4.52,21.8],[-4.47,22.3],[-4.39,19.8],[-4.32,20.3],[-4.24,17.8],[-4.15,13.8],[-4.05,9.3],[-3.95,7.3],[-3.87,9.8],[-3.8,15.8],[-3.73,21.3],[-3.68,22.3],[-3.63,18.8],[-3.55,18.8],[-3.48,21.3],[-3.4,24.8],[-3.34,27],[-3.31,23.8],[-3.26,17.8],[-3.18,17.3],[-3.11,18.3],[-3.04,17],[-2.98,20.3],[-2.93,17],[-2.89,12.8],[-2.84,15.8],[-2.79,14.8],[-2.74,15.8],[-2.69,12.8],[-2.63,9.3],[-2.54,7.6],[-2.44,7.6],[-2.32,5.8],[-2.2,5.0],[-2.06,5.6],[-1.91,4.3],[-1.77,4.0],[-1.63,3.8],[-1.48,4.8],[-1.34,4.8],[-1.22,4.3],[-1.1,4.3],[-1.0,5.0],[-0.91,2.6],[-0.81,2.0],[-0.62,2.3],[-0.43,2.3],[-0.29,2.3],[-0.14,1.6],[0,2.3],[0.19,2.3],[0.43,2.0],[0.62,2.3],[0.81,2.8],[0.96,2.0],[1.15,1.6],[1.29,1.6],[1.41,2.3],[1.53,1.6],[1.67,1.8],[1.82,2.0],[1.96,2.3],[2.06,3.0],[2.15,2.3],[2.3,1.3],[2.49,2.0],[2.73,1.8],[2.97,1.6],[3.21,1.3],[3.59,1.3],[3.88,1.6],[4.02,1.8]];
const SN_PT_CUB = [[-10.02,0],[-8.64,0.3],[-8.39,1.3],[-8.2,1.6],[-8.0,1.6],[-7.8,2.0],[-7.6,1.3],[-7.41,0],[-6.62,0],[-5.43,0],[-5.33,2.3],[-5.23,4.3],[-5.13,5.8],[-5.03,8.8],[-4.94,9.0],[-4.86,7.3],[-4.79,3.8],[-4.69,2.3],[-4.59,2.3],[-4.49,2.8],[-4.42,5.8],[-4.37,13.8],[-4.32,19.8],[-4.24,27.8],[-4.19,34.8],[-4.16,37.8],[-4.12,33.8],[-4.07,25.8],[-4.02,21.8],[-3.95,16.8],[-3.85,14.8],[-3.75,13.8],[-3.68,11.8],[-3.6,13.8],[-3.53,18.8],[-3.45,28.8],[-3.38,41.8],[-3.33,46.8],[-3.26,50.8],[-3.21,49.8],[-3.16,45.8],[-3.11,33.8],[-3.06,23.8],[-3.01,13.8],[-2.96,13.0],[-2.92,10.5],[-2.78,6.0],[-2.63,3.3],[-2.44,2.0],[-2.25,1.8],[-2.06,2.0],[-1.87,2.6],[-1.72,3.8],[-1.58,5.3],[-1.46,6.8],[-1.39,7.6],[-1.32,3.8],[-1.24,2.0],[-1.1,1.3],[-0.96,2.3],[-0.81,2.8],[-0.67,3.6],[-0.53,4.3],[-0.41,6.6],[-0.31,8.8],[-0.24,6.8],[-0.17,4.8],[-0.05,3.8],[0.1,3.3],[0.33,2.3],[0.62,1.6],[0.91,1.6],[1.2,1.3],[1.48,1.3],[1.77,2.0],[2.01,2.8],[2.15,3.8],[2.25,4.3],[2.34,2.3],[2.49,2.0],[2.73,2.3],[3.01,1.0],[3.3,1.0],[3.68,1.3],[3.92,1.3]];
const SN_TOT_HEX = [[-10.02,4.0],[-9.63,4.8],[-9.43,5.5],[-9.31,6.5],[-9.09,6.5],[-8.74,6.5],[-8.64,7.5],[-8.54,10],[-8.47,15],[-8.4,21],[-8.34,25.5],[-8.3,23],[-8.25,15],[-8.2,6.0],[-8.15,1.8],[-7.9,1.5],[-6.81,1.5],[-6.62,3.5],[-6.42,6.0],[-6.32,8.0],[-6.2,10.5],[-6.07,10.2],[-5.92,10.5],[-5.68,10.2],[-5.48,10.8],[-5.23,10.5],[-5.08,10.8],[-4.94,13],[-4.86,16],[-4.81,20],[-4.76,25],[-4.71,30],[-4.64,33.5],[-4.57,34.5],[-4.52,38],[-4.47,42],[-4.42,38],[-4.37,36],[-4.32,36],[-4.27,35],[-4.19,28],[-4.12,21],[-4.02,14],[-3.95,12],[-3.87,15],[-3.8,24],[-3.73,32],[-3.68,31],[-3.63,27],[-3.55,28],[-3.48,32],[-3.4,37],[-3.34,39.5],[-3.31,34],[-3.26,26.5],[-3.18,26],[-3.11,27],[-3.06,23],[-2.98,30],[-2.93,25],[-2.89,20],[-2.82,25],[-2.75,26],[-2.68,21],[-2.61,18],[-2.54,18],[-2.46,20.5],[-2.39,19],[-2.3,16],[-2.2,15],[-2.11,18],[-2.06,20],[-1.99,19],[-1.89,17],[-1.77,16],[-1.65,15.5],[-1.56,18],[-1.46,21],[-1.39,22.5],[-1.29,23.5],[-1.22,25.5],[-1.15,30],[-1.08,40],[-1.03,46],[-0.98,46.5],[-0.93,35],[-0.89,25],[-0.81,18],[-0.74,17.5],[-0.65,16],[-0.53,14.5],[-0.43,13.5],[-0.36,16.5],[-0.31,14.5],[-0.24,11],[-0.14,9.2],[-0.05,11],[0.05,12.2],[0.19,11.5],[0.33,11.2],[0.48,12.2],[0.62,13],[0.77,15.2],[0.89,17.2],[0.96,15.5],[1.05,12],[1.2,11],[1.29,11.5],[1.36,16],[1.44,20],[1.51,18],[1.6,15.5],[1.7,18],[1.77,20],[1.87,17.5],[1.94,20.5],[2.01,26],[2.07,31.5],[2.13,28],[2.2,22],[2.27,16],[2.34,14.5],[2.39,18],[2.44,25],[2.49,27],[2.54,23],[2.58,18],[2.66,20],[2.73,17],[2.82,15],[2.97,13],[3.11,12.5],[3.21,13.8],[3.35,11.5],[3.54,10.8],[3.73,10],[3.88,12.2],[4.02,12.5]];
const SN_TOT_CUB = [[-10.02,2.0],[-9.83,2.2],[-9.38,3.5],[-8.89,4.5],[-8.54,6.5],[-8.34,8.0],[-8.15,10],[-7.95,12.5],[-7.78,14.5],[-7.68,17],[-7.63,14],[-7.58,7.0],[-7.55,2.2],[-7.41,1.5],[-5.53,1.5],[-5.43,4.0],[-5.36,10],[-5.28,20],[-5.18,24.5],[-5.06,27.5],[-4.96,26.5],[-4.89,20],[-4.84,13],[-4.76,8.0],[-4.64,5.0],[-4.54,7.0],[-4.47,12],[-4.39,25],[-4.34,35],[-4.29,47],[-4.24,55],[-4.18,62],[-4.16,63.8],[-4.12,60],[-4.07,50],[-4.02,38],[-3.95,29],[-3.85,26],[-3.75,24],[-3.68,19],[-3.6,20],[-3.53,27],[-3.45,38],[-3.4,47],[-3.35,55],[-3.31,63],[-3.26,68.5],[-3.21,67],[-3.16,63],[-3.11,50],[-3.06,38],[-3.01,28],[-2.96,27],[-2.89,21],[-2.81,16],[-2.73,13],[-2.62,12],[-2.54,10.5],[-2.34,8.0],[-2.15,7.2],[-1.96,8.0],[-1.77,10],[-1.65,12],[-1.58,17],[-1.53,25],[-1.48,40],[-1.44,52],[-1.4,56],[-1.36,50],[-1.33,35],[-1.29,20],[-1.24,12],[-1.15,7.5],[-1.0,6.5],[-0.89,10],[-0.81,15],[-0.74,24],[-0.67,31],[-0.6,33.5],[-0.55,31.5],[-0.5,25],[-0.45,20],[-0.41,30],[-0.36,42],[-0.31,48],[-0.26,42],[-0.22,32],[-0.15,30],[-0.1,27],[-0.02,24],[0.1,20],[0.24,17],[0.43,14],[0.62,12],[0.81,9.5],[1.0,7.5],[1.2,6.5],[1.44,6.5],[1.63,8.0],[1.77,11],[1.87,16],[1.96,25],[2.06,35],[2.15,44],[2.22,49],[2.27,45],[2.32,38],[2.37,30],[2.44,23],[2.54,22],[2.61,25],[2.68,24],[2.78,23],[2.87,20],[2.97,16],[3.11,13],[3.3,11.5],[3.54,9.5],[3.78,8.5],[3.97,9.5]];

const DATA = [
  {hex: [GA_M_HEX, GA_PT_HEX, GA_TOT_HEX], cub: [GA_M_CUB, GA_PT_CUB, GA_TOT_CUB]},
  {hex: [IN_M_HEX, IN_PT_HEX, IN_TOT_HEX], cub: [IN_M_CUB, IN_PT_CUB, IN_TOT_CUB]},
  {hex: [AL_M_HEX, AL_PT_HEX, AL_TOT_HEX], cub: [AL_M_CUB, AL_PT_CUB, AL_TOT_CUB]},
  {hex: [SN_CR_HEX, SN_PT_HEX, SN_TOT_HEX], cub: [SN_CR_CUB, SN_PT_CUB, SN_TOT_CUB]}
];

// ---------------- LAYOUT CONSTANTS ----------------
const W = 2824, H = 3360;
const OFFSETS = [[100, 60.7, 0], [97.2, 61.2, 0], [102.2, 64.5, 0], [111.2, 66.2, 0]];
const PANEL_PX = [
  {x: [347, 1452], y: [111, 1525], xr: [-10.22, 4.185], yt: 147.8},
  {x: [1494, 2589], y: [119, 1525], xr: [-10.18, 4.21], yt: 147.0},
  {x: [341, 1452], y: [1639, 3055], xr: [-10.19, 4.18], yt: 148.0},
  {x: [1484, 2597], y: [1639, 3055], xr: [-10.18, 4.19], yt: 148.0}
];
const LABEL_POS = [
  [[387, 425], [387, 752], [426, 1203], [1159, 716]],
  [[1506, 501], [1539, 807], [1566, 1186], [2334, 760]],
  [[369, 1904], [375, 2311], [410, 2775], [1176, 2251]],
  [[1503, 1840], [1518, 2251], [1529, 2677], [2332, 2220]]
];
const FONT = '"Liberation Sans", Arial, Helvetica, sans-serif';
const RED = '#ff0000';
const W_HEX = [7, 7.5, 10];
const W_CUB = [7.5, 7.5, 8];
const DOT = '6px,8px';
const LW = 6;           // frame line width
const PXU_X = 76.7;     // px per eV
const PXU_Y = 9.57;     // px per y-unit

const px = x => x / W;
const py = y => 1 - y / H;

const traces = [];
const layout = {
  width: W, height: H,
  margin: {l: 0, r: 0, t: 0, b: 0},
  paper_bgcolor: '#ffffff', plot_bgcolor: 'rgba(0,0,0,0)',
  showlegend: false,
  font: {family: FONT, color: '#000'},
  annotations: [], shapes: []
};

DATA.forEach((panel, p) => {
  const sfx = p === 0 ? '' : String(p + 1);
  const P = PANEL_PX[p];
  const h = LW / 2;
  for (let c = 0; c < 3; c++) {
    const cub = panel.cub[c], hex = panel.hex[c];
    traces.push({
      x: cub.map(d => d[0]), y: cub.map(d => d[1] + OFFSETS[p][c]),
      xaxis: 'x' + sfx, yaxis: 'y' + sfx, type: 'scatter', mode: 'lines',
      name: 'F-43m', hoverinfo: 'skip',
      line: {color: '#000', width: W_CUB[c], dash: DOT}
    });
    traces.push({
      x: hex.map(d => d[0]), y: hex.map(d => d[1] + OFFSETS[p][c]),
      xaxis: 'x' + sfx, yaxis: 'y' + sfx, type: 'scatter', mode: 'lines',
      name: 'P63/mmc', hoverinfo: 'skip',
      line: {color: RED, width: W_HEX[c]}
    });
  }
  layout['xaxis' + sfx] = {
    domain: [px(P.x[0] + h), px(P.x[1] - h)],
    range: [P.xr[0] + h / PXU_X, P.xr[1] - h / PXU_X],
    anchor: 'y' + sfx,
    showline: true, mirror: 'ticks', linewidth: LW, linecolor: '#000',
    ticks: 'inside', ticklen: 40, tickwidth: 7, tickcolor: '#000',
    tickmode: 'array', tickvals: XTICK_VALS, ticktext: XTICK_TEXT,
    ticklabelstandoff: -40,
    minor: {tickmode: 'linear', tick0: 0, dtick: 1, ticks: 'inside', ticklen: 20, tickwidth: 6, tickcolor: '#000', showgrid: false},
    showgrid: false, zeroline: false,
    tickfont: {family: FONT, size: 98, color: '#000'},
    fixedrange: true
  };
  layout['yaxis' + sfx] = {
    domain: [py(P.y[1] - h), py(P.y[0] + h)],
    range: [h / PXU_Y, P.yt - h / PXU_Y],
    anchor: 'x' + sfx,
    showline: true, mirror: true, linewidth: LW, linecolor: '#000',
    ticks: '', showticklabels: false, showgrid: false, zeroline: false,
    fixedrange: true
  };
  // Fermi level dashed line
  layout.shapes.push({
    type: 'line', xref: 'x' + sfx, yref: 'y' + sfx + ' domain',
    x0: 0, x1: 0, y0: 0, y1: 1,
    line: {color: '#000', width: 7, dash: '22px,12px'}, layer: 'above'
  });
  // component labels and compound name
  const texts = PARTS[p].concat([COMPOUNDS[p]]);
  texts.forEach((t, i) => {
    layout.annotations.push({
      text: t, xref: 'paper', yref: 'paper',
      x: px(LABEL_POS[p][i][0]), y: py(LABEL_POS[p][i][1]),
      xanchor: 'left', yanchor: 'middle', showarrow: false,
      font: {family: FONT, size: 75, color: '#000'}
    });
  });
});

// axis titles
[[259, 846], [259, 2353]].forEach(([x, y]) => {
  layout.annotations.push({
    text: Y_TITLE, xref: 'paper', yref: 'paper', x: px(x), y: py(y),
    xanchor: 'center', yanchor: 'middle', textangle: -90, showarrow: false,
    font: {family: FONT, size: 96, color: '#000'}
  });
});
[[978, 3216], [2057, 3216]].forEach(([x, y]) => {
  layout.annotations.push({
    text: X_TITLE, xref: 'paper', yref: 'paper', x: px(x), y: py(y),
    xanchor: 'center', yanchor: 'middle', showarrow: false,
    font: {family: FONT, size: 96, color: '#000'}
  });
});

// legend (top-right panel)
layout.shapes.push({type: 'line', xref: 'paper', yref: 'paper',
  x0: px(1503), x1: px(1646), y0: py(225), y1: py(225),
  line: {color: RED, width: 8}});
layout.shapes.push({type: 'line', xref: 'paper', yref: 'paper',
  x0: px(1515), x1: px(1646), y0: py(332), y1: py(332),
  line: {color: '#000', width: 6, dash: '6px,8px'}});
layout.annotations.push({text: SERIES_NAMES[0], xref: 'paper', yref: 'paper',
  x: px(1676), y: py(229), xanchor: 'left', yanchor: 'middle', showarrow: false,
  font: {family: FONT, size: 75, color: '#000'}});
layout.annotations.push({text: SERIES_NAMES[1], xref: 'paper', yref: 'paper',
  x: px(1691), y: py(328), xanchor: 'left', yanchor: 'middle', showarrow: false,
  font: {family: FONT, size: 75, color: '#000'}});

Plotly.newPlot('chart', traces, layout, {staticPlot: true, displayModeBar: false});
</script>
</body></html>
